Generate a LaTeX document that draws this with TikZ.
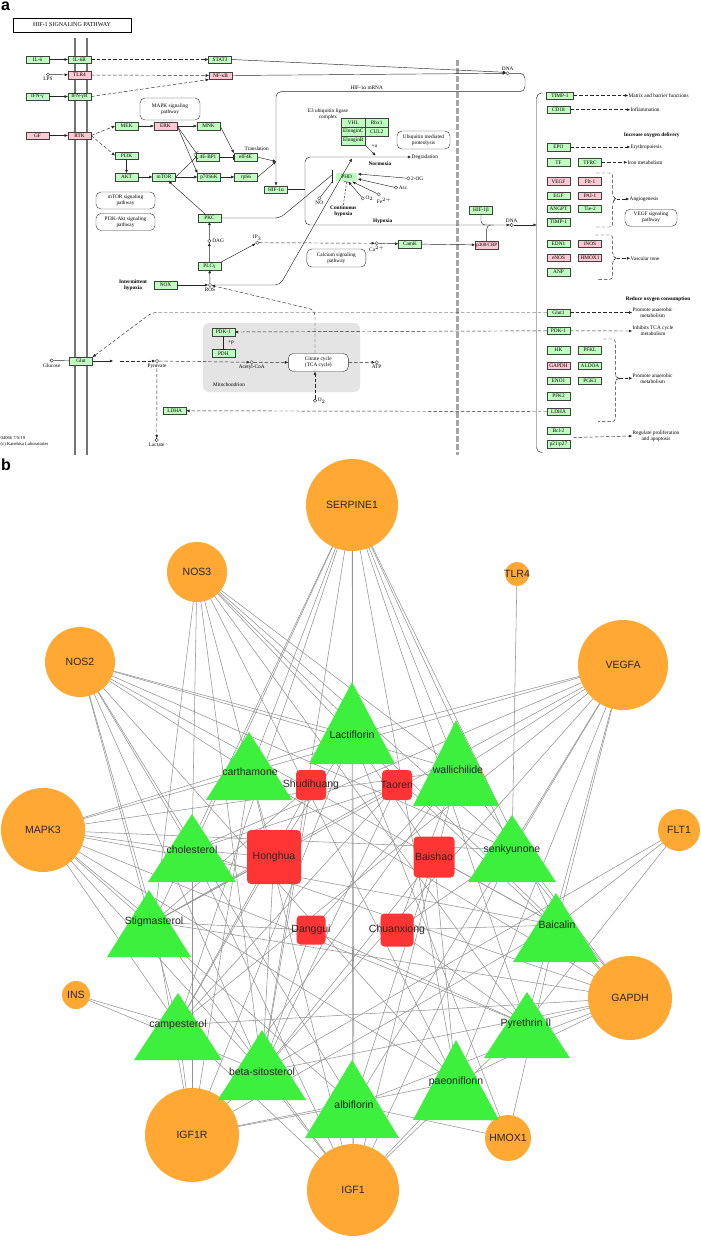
\documentclass[tikz,border=0pt]{standalone}
\usepackage{fontspec}
\setmainfont{Liberation Serif}
\newfontfamily\netfont{Liberation Sans}
\usetikzlibrary{arrows.meta}
\usetikzlibrary{positioning}
\usetikzlibrary{calc,backgrounds}
\definecolor{kgreen}{HTML}{BFFFBF}
\definecolor{kpink}{HTML}{FFC8D2}
\definecolor{mitogray}{HTML}{E4E4E4}
\definecolor{herbred}{HTML}{FF3535}
\definecolor{cpdgreen}{HTML}{3DF03D}
\definecolor{tgtorange}{HTML}{FFA834}
\newcommand{\kfont}{\fontsize{5.3pt}{6pt}\selectfont}
\newcommand{\nfont}{\netfont\fontsize{10.5pt}{12pt}\selectfont}
\tikzstyle{gene}=[draw=black!75, fill=kgreen, minimum width=23pt, minimum height=7.6pt, inner sep=0pt, line width=0.4pt, font=\kfont]
\tikzstyle{pgene}=[gene, fill=kpink]
\tikzstyle{cpd}=[circle, draw=black!80, fill=white, inner sep=0pt, minimum size=3.4pt, line width=0.4pt]
\tikzstyle{mapbox}=[draw=black!80, rounded corners=5pt, align=center, font=\kfont, inner sep=1pt, line width=0.4pt]
\tikzstyle{klabel}=[font=\kfont, align=center, inner sep=0.5pt]
\tikzstyle{kbold}=[klabel, font=\kfont\bfseries]
\tikzstyle{act}=[draw=black!85, line width=0.45pt, -{Triangle[length=3.2pt,width=2.6pt]}]
\tikzstyle{dact}=[act, dash pattern=on 3.5pt off 2pt]
\tikzstyle{inh}=[draw=black!85, line width=0.45pt, -{Bar[width=5pt]}]
\tikzstyle{plainline}=[draw=black!85, line width=0.45pt]
\tikzstyle{memline}=[draw=black!55, line width=1.6pt]
\tikzstyle{netedge}=[draw=black!42, line width=0.55pt]
\tikzstyle{tgt}=[circle, fill=tgtorange, inner sep=0pt]
\tikzstyle{herb}=[rectangle, rounded corners=4pt, fill=herbred, inner sep=0pt]
\tikzstyle{netlabel}=[inner sep=0pt, font=\nfont, text=black!85]

\begin{document}
\begin{tikzpicture}[x=1pt, y=-1pt]
    \useasboundingbox (0,0) rectangle (701,1240);
    % Panel a: HIF-1 signalling map
    \node[font=\netfont\bfseries\fontsize{16pt}{17pt}\selectfont, anchor=north west, inner sep=0pt] (panela) at (1,2) {a};
    \node[draw, line width=0.5pt, minimum width=118pt, minimum height=14pt, inner sep=0pt, font=\fontsize{6pt}{7pt}\selectfont] (title) at (72,25) {HIF-1 SIGNALING PATHWAY};

    % membranes and nucleus boundary
    \draw[memline] (75,38) -- (75,455);
    \draw[memline] (87,38) -- (87,455);
    \draw[draw=black!35, line width=2.6pt, dash pattern=on 6pt off 2pt] (457.5,60) -- (457.5,455);
    \fill[mitogray, rounded corners=6pt] (203,323) rectangle (360,392);

    % First the gene products
    \foreach \pos/\name/\label in {{(37.5,59.5)/IL6/IL-6}, {(79.5,59.5)/IL6R/IL-6R}, {(220,59.5)/STAT3/STAT3},
        {(37.5,96.5)/IFNG/IFN-γ}, {(79.5,96.5)/IFNGR/IFN-γR}, {(126.5,126)/MEK/MEK}, {(208.5,126)/MNK/MNK},
        {(126.5,155.5)/PI3K/PI3K}, {(126.5,177)/AKT/AKT}, {(164,177)/mTOR/mTOR}, {(208,157)/EBP/4E-BP1},
        {(209,177)/SK/p70S6K}, {(245.5,157)/eIF/eIF4E}, {(246,177)/rpS/rpS6}, {(276,189.5)/HIFa/HIF-1α},
        {(209.5,218)/PKC/PKC}, {(209.5,266)/PLCg/PLCγ}, {(165.5,285)/NOX/NOX}, {(410,244)/CamK/CamK},
        {(481,210)/HIFb/HIF-1β}, {(223.3,332)/PDKm/PDK-1}, {(223.3,353.3)/PDH/PDH}, {(81,361)/Glut/Glut},
        {(174.7,410.8)/LDHAm/LDHA}, {(558.5,109.7)/CDe/CD18}, {(558.5,147)/EPO/EPO}, {(558.5,162.3)/TF/TF},
        {(590,162.3)/TFRC/TFRC}, {(558.5,195.5)/EGF/EGF}, {(558.5,208.8)/ANGPT/ANGPT}, {(590,208.8)/Tie/Tie-2},
        {(558.5,222.2)/TIMPb/TIMP-1}, {(558.5,243.8)/EDN/EDN1}, {(558.5,272.2)/ANP/ANP}, {(558.5,312.5)/Glutr/Glut1},
        {(558.5,330.8)/PDKr/PDK-1}, {(558.5,350)/HK/HK}, {(590,350)/PFKL/PFKL}, {(590,365.8)/ALDOA/ALDOA},
        {(558.5,380.8)/ENO/ENO1}, {(590,380.8)/PGK/PGK1}, {(558.5,396.2)/PFKt/PFK2}, {(558.5,411.5)/LDHAr/LDHA},
        {(558.5,430.8)/Bcl/Bcl-2}}
        \node[gene] (\name) at \pos {\label};
    \foreach \pos/\name/\label in {{(79.5,75)/TLR/TLR4}, {(220.5,75.5)/NFKB/NF-κB}, {(37.5,135.5)/GF/GF},
        {(79.5,135.5)/RTK/RTK}, {(165.5,126)/ERK/ERK}, {(558.5,181.3)/VEGF/VEGF}, {(590,181.3)/Flt/Flt-1},
        {(590,195.5)/PAI/PAI-1}, {(590,243.8)/iNOS/iNOS}, {(558.5,257.8)/eNOS/eNOS}, {(590,257.8)/HMOX/HMOX1},
        {(558.5,365.8)/GAPDH/GAPDH}}
        \node[pgene] (\name) at \pos {\label};
    \node[gene, minimum width=27pt] (TIMPa) at (560,95.5) {TIMP-1};
    \node[gene] (pTw) at (558.5,444.2) {p21/p27};
    \node[pgene, font=\fontsize{5pt}{6pt}\selectfont] (p300) at (486.7,245) {p300/CBP};
    \foreach \pos/\name/\label in {{(353.3,122.8)/VHL/VHL}, {(376.7,122.8)/Rbx/Rbx1}, {(353.3,131.6)/ElC/ElonginC},
        {(376.7,131.6)/CUL/CUL2}, {(353.3,140.4)/ElB/ElonginB}}
        \node[gene, minimum width=23.4pt, minimum height=8.8pt] (\name) at \pos {\label};
    \node[gene, double, double distance=0.6pt, minimum width=22pt, minimum height=9pt] (PHD) at (346.7,177) {PHD};

    % compounds
    \node[cpd] (LPS) at (48,74.5) {};        \node[klabel, below=0.3pt of LPS] (LPSl) {LPS};
    \node[cpd] (DAG) at (209.3,241) {};      \node[klabel, right=0.5pt of DAG] (DAGl) {DAG};
    \node[cpd] (IP) at (257.3,242.7) {};     \node[klabel, above=0pt of IP] (IPl) {IP$_3$};
    \node[cpd] (Ca) at (376.7,243.3) {};     \node[klabel, below=0.3pt of Ca] (Cal) {Ca$^{2+}$};
    \node[cpd] (ROS) at (210,285) {};        \node[klabel, below=0.3pt of ROS] (ROSl) {ROS};
    \node[cpd] (NO) at (319.3,198.3) {};     \node[klabel, below=0.3pt of NO] (NOl) {NO};
    \node[cpd] (Otwo) at (362.7,198.3) {};   \node[klabel, right=0.3pt of Otwo] (Otwol) {O$_2$};
    \node[cpd] (Fe) at (378.7,194.3) {};     \node[klabel] (Fel) at (384,201) {Fe$^{2+}$};
    \node[cpd] (Asc) at (396,187.7) {};      \node[klabel, right=0.3pt of Asc] (Ascl) {Asc};
    \node[cpd] (OG) at (408.3,178.3) {};     \node[klabel, right=0.3pt of OG] (OGl) {2-OG};
    \node[cpd] (DNAa) at (507.7,73.3) {};    \node[klabel, above=0.3pt of DNAa] (DNAal) {DNA};
    \node[cpd] (DNAb) at (511.7,225) {};     \node[klabel, above=0.3pt of DNAb] (DNAbl) {DNA};
    \node[cpd] (Gluc) at (51.7,360.5) {};    \node[klabel, below=0.3pt of Gluc] (Glucl) {Glucose};
    \node[cpd] (Pyr) at (157,361) {};        \node[klabel, below=0.3pt of Pyr] (Pyrl) {Pyruvate};
    \node[cpd] (AcCoA) at (251.7,362.3) {};  \node[klabel, below=0.3pt of AcCoA] (AcCoAl) {Acetyl-CoA};
    \node[cpd] (ATP) at (376.7,362.3) {};    \node[klabel, below=0.3pt of ATP] (ATPl) {ATP};
    \node[cpd] (Othree) at (315,400.7) {};   \node[klabel, right=0.3pt of Othree] (Othreel) {O$_2$};
    \node[cpd] (Lact) at (156.7,440) {};     \node[klabel, below=0.3pt of Lact] (Lactl) {Lactate};

    % linked pathway maps
    \node[mapbox, minimum width=60pt, minimum height=22pt] (MAPKp) at (170,109) {MAPK signaling\\pathway};
    \node[mapbox, minimum width=59pt, minimum height=17pt] (mTORp) at (125.5,200.5) {mTOR signaling\\pathway};
    \node[mapbox, minimum width=59pt, minimum height=17pt] (PIAKp) at (125.5,222) {PI3K-Akt signaling\\pathway};
    \node[mapbox, minimum width=53pt, minimum height=18pt] (Ubqp) at (423.5,140) {Ubiquitin mediated\\proteolysis};
    \node[mapbox, minimum width=59pt, minimum height=18pt] (Calcp) at (336.3,258) {Calcium signaling\\pathway};
    \node[mapbox, minimum width=52pt, minimum height=17pt] (VEGFp) at (651,217.7) {VEGF signaling\\pathway};
    \node[mapbox, fill=white, minimum width=60pt, minimum height=18pt] (TCA) at (318.3,362.5) {Citrate cycle\\(TCA cycle)};

    % texts
    \node[klabel] (transl) at (256.7,148.3) {Translation};
    \node[klabel] (etre) at (328,114) {E3 ubiquitin ligase\\complex};
    \node[klabel] (plusu) at (374.5,146) {+u};
    \node[klabel, anchor=west] (degr) at (411,157) {Degradation};
    \node[kbold] (normo) at (380,163.5) {Normoxia};
    \node[klabel] (mrna) at (366.7,88) {HIF-1α mRNA};
    \node[kbold] (intermit) at (133,285) {Intermittent\\hypoxia};
    \node[kbold] (conthyp) at (343.3,211) {Continuous\\hypoxia};
    \node[kbold] (hypo) at (382.7,221) {Hypoxia};
    \node[klabel] (mito) at (229,385) {Mitochondrion};
    \node[klabel] (plusp) at (231,342.7) {+p};
    \node[klabel, anchor=west] (matrix) at (628,95.5) {Matrix and barrier functions};
    \node[klabel, anchor=west] (inflam) at (630,109.7) {Inflammation};
    \node[kbold] (incr) at (651.7,135) {Increase oxygen delivery};
    \node[klabel, anchor=west] (eryth) at (630,147) {Erythropoiesis};
    \node[klabel, anchor=west] (iron) at (627,162.3) {Iron metabolism};
    \node[klabel, anchor=west] (angio) at (629,199) {Angiogenesis};
    \node[klabel, anchor=west] (vasc) at (630,258.3) {Vascular tone};
    \node[kbold] (reduce) at (658,299.3) {Reduce oxygen consumption};
    \node[klabel, anchor=west] (promA) at (632,312.5) {Promote anaerobic\\metabolism};
    \node[klabel, anchor=west] (inhib) at (632,331) {Inhibits TCA cycle\\metabolism};
    \node[klabel, anchor=west] (promB) at (632,378.3) {Promote anaerobic\\metabolism};
    \node[klabel, anchor=west] (regul) at (632,436) {Regulate proliferation\\and apoptosis};
    \node[klabel, anchor=north west, align=left, font=\fontsize{4.6pt}{5.4pt}\selectfont] (credit) at (0,436) {04066 7/5/19\\(c) Kanehisa Laboratories};

    % free ends and bends
    \coordinate (tj) at (276,161.5);
    \coordinate (mrnaR) at (525,91.7);
    \coordinate (rosbend) at (280,285);
    \coordinate (normtip) at (352,158.5);
    \coordinate (pkcbend) at (280,218);
    \coordinate (phdbarT) at (332.7,170);
    \coordinate (phdbarB) at (332.7,182.5);
    \coordinate (hbr) at (305,189.5);
    \coordinate (ubtip) at (375.5,155.5);
    \coordinate (hbj) at (490,225);
    \coordinate (pcj) at (494,225);
    \coordinate (brk) at (536.5,225);
    \coordinate (brkTop) at (543,93);
    \coordinate (brkBot) at (543,452.5);
    \coordinate (anT) at (596,173);   \coordinate (anM) at (616.7,199);   \coordinate (anB) at (596,227);
    \coordinate (vaT) at (595,235);   \coordinate (vaM) at (616.7,258.3); \coordinate (vaB) at (598,279.3);
    \coordinate (glT) at (603,339);   \coordinate (glM) at (619,378.3);   \coordinate (glB) at (598,421.7);
    \coordinate (bclj) at (573,437.5);
    \coordinate (glbend) at (152,312.5);
    \coordinate (glutout) at (113,361);
    \coordinate (glutdash) at (120,361);
    \coordinate (tcabend) at (315,310);

    % Connect the map
    \draw[act] (IL6) -- (IL6R);
    \draw[dact] (IL6R) -- (STAT3);
    \draw[act] (LPS) -- (TLR);
    \draw[dact] (TLR) -- (NFKB);
    \draw[act] (IFNG) -- (IFNGR);
    \draw[dact] (IFNGR.east) -- (NFKB.south west);
    \draw[act] (GF) -- (RTK);
    \draw[dact] (RTK.east) -- (MEK.west);
    \draw[dact] (RTK.east) -- (PI3K.west);
    \draw[act] (MEK) -- (ERK);
    \draw[act] (ERK) -- (MNK);
    \draw[act] (PI3K) -- (AKT);
    \draw[act] (AKT) -- (mTOR);
    \draw[act] (mTOR) -- (SK);
    \draw[inh] (mTOR.east) -- (EBP.west);
    \draw[inh] (ERK.east) -- (EBP.north west);
    \draw[act] (ERK.east) -- (SK.north west);
    \draw[inh] (EBP) -- (eIF);
    \draw[act] (MNK.east) -- (eIF.north west);
    \draw[act] (SK) -- (rpS);
    \draw[act] (eIF.east) -- (tj);
    \draw[act] (rpS.east) -- (tj);
    \draw[act, rounded corners=5pt] (DNAa.east) -| (mrnaR) -| (HIFa.north);
    \draw[act] (STAT3.east) -- (DNAa.150);
    \draw[act] (NFKB.east) -- (DNAa.west);
    \draw[act] (PKC) -- (mTOR);
    \draw[act] (PLCg) -- (DAG);
    \draw[act] (DAG) -- (PKC);
    \draw[act] (PLCg.north east) -- (IP);
    \draw[dact] (IP) -- (Ca);
    \draw[act] (Ca) -- (CamK);
    \draw[act] (CamK) -- (p300);
    \draw[act] (ROS) -- (PLCg);
    \draw[act] (NOX) -- (ROS);
    \draw[act, rounded corners=5pt] (ROS.east) -- (rosbend) -- (normtip);
    \draw[plainline] (phdbarT) -- (phdbarB);
    \draw[plainline, rounded corners=5pt] (PKC.east) -- (pkcbend) -- ($(phdbarT)!0.35!(phdbarB)$);
    \draw[plainline] (NO) -- ($(phdbarT)!0.9!(phdbarB)$);
    \draw[plainline] (HIFa.east) -- (hbr);
    \draw[act, rounded corners=5pt] (hbr) |- (degr.west);
    \draw[act, rounded corners=5pt] (hbr) |- (DNAb.west);
    \draw[act] (ElB.south east) -- (ubtip);
    \draw[inh, dash pattern=on 2pt off 1.5pt] (conthyp.north) -- (PHD.south);
    \draw[act] (OG) -- (PHD.15);
    \draw[act] (Asc) -- (PHD.-10);
    \draw[act] (Fe) -- (PHD.-40);
    \draw[act] (Otwo) -- (PHD.-70);
    \draw[plainline, rounded corners=4pt] (HIFb.south) |- (hbj);
    \draw[plainline, rounded corners=4pt] (p300.north) |- (pcj);
    \draw[act] (DNAb.east) -- (brk);
    \draw[plainline, rounded corners=5pt] (brkTop) -| (brk) |- (brkBot);

    % outputs of the right column
    \draw[dact] (TIMPa) -- (matrix.west);
    \draw[dact] (CDe) -- (inflam.west);
    \draw[dact] (EPO) -- (eryth.west);
    \draw[dact] (TFRC) -- (iron.west);
    \draw[plainline, dash pattern=on 3.5pt off 2pt, rounded corners=3pt] (anT) -- (612.7,173) -- (612.7,197) -- (anM) -- (612.7,201) -- (612.7,227) -- (anB);
    \draw[dact] (anM) -- (angio.west);
    \draw[plainline, dash pattern=on 3.5pt off 2pt, rounded corners=3pt] (vaT) -- (612.7,235) -- (612.7,256.3) -- (vaM) -- (612.7,260.3) -- (612.7,279.3) -- (vaB);
    \draw[dact] (vaM) -- (vasc.west);
    \draw[plainline, dash pattern=on 3.5pt off 2pt, rounded corners=3pt] (glT) -- (615.3,339) -- (615.3,376.3) -- (glM) -- (615.3,380.3) -- (615.3,421.7) -- (glB);
    \draw[dact] (glM) -- (promB.west);
    \draw[dact] (Glutr) -- (promA.west);
    \draw[dact] (PDKr) -- (inhib.west);
    \draw[dact] (bclj) -- (regul.west);

    % metabolism
    \draw[dact, rounded corners=5pt] (Glutr.west) -- (glbend) -- (Glut.north east);
    \draw[dact] (PDKr.west) -- (PDKm.east);
    \draw[dact] (LDHAr.west) -- (LDHAm.east);
    \draw[plainline] (Gluc) -- (Glut);
    \draw[act] (Glut) -- (glutout);
    \draw[dact] (glutdash) -- (Pyr);
    \draw[dact] (Pyr) -- (AcCoA);
    \draw[dact] (AcCoA) -- (TCA);
    \draw[dact] (TCA) -- (ATP);
    \draw[dact] (Othree) -- (Othree |- TCA.south);
    \draw[dact] (Pyr) -- (Lact);
    \draw[inh] (PDKm) -- (PDH);
    \draw[dact, rounded corners=5pt] (TCA.north -| Othree) -- (tcabend) -- (ROS);

    % Panel b: herb - compound - target network
    \node[font=\netfont\bfseries\fontsize{16pt}{17pt}\selectfont, anchor=north west, inner sep=0pt] (panelb) at (1,459) {b};
    \foreach \pos/\name/\label/\d in {{(352,505)/tSerp/SERPINE1/92}, {(197,572)/tNos3/NOS3/60}, {(517,574)/tTlr/TLR4/24},
        {(80,662)/tNos2/NOS2/70}, {(623,665)/tVegfa/VEGFA/90}, {(43,830)/tMapk/MAPK3/84}, {(679,830)/tFlt/FLT1/42},
        {(76,995)/tIns/INS/28}, {(630,998)/tGapdh/GAPDH/84}, {(192,1135)/tIgfr/IGF1R/94}, {(508,1138)/tHmox/HMOX1/46},
        {(353,1190)/tIgf/IGF1/92}}
    {
        \node[tgt, minimum size=\d pt] (\name) at \pos {};
        \node[netlabel] (\name-l) at (\name) {\label};
    }
    \foreach \ax/\ay/\by/\hw/\lx/\ly/\name/\label in {{352/682/764/43/352/735/cLac/Lactiflorin},
        {249/732/800/43/250/772/cCar/carthamone}, {456/720/806/43/458/770/cWal/wallichilide},
        {192/814/882/44/192/850/cCho/cholesterol}, {512/815/882/44/512/850/cSen/senkyunone},
        {149/890/957/42/154/922/cSti/Stigmasterol}, {556/893/962/43/557/925/cBai/Baicalin},
        {178/993/1060/44/178/1025/cCam/campesterol}, {527/992/1058/43/526/1024/cPyr/Pyrethrin II},
        {262/1030/1100/44/262/1072/cBsi/beta-sitosterol}, {456/1040/1120/43/456/1082/cPae/paeoniflorin},
        {352/1060/1138/47/354/1105/cAlb/albiflorin}}
    {
        \fill[cpdgreen] (\ax,\ay) -- ({\ax-\hw},\by) -- ({\ax+\hw},\by) -- cycle;
        \node[netlabel] (\name) at (\lx,\ly) {\label};
    }
    \foreach \pos/\name/\label/\d in {{(311,785)/hShu/Shudihuang/30}, {(397,785)/hTao/Taoren/30},
        {(274,857)/hHon/Honghua/54}, {(434,857)/hBai/Baishao/41}, {(311,930)/hDan/Danggui/29},
        {(397,930)/hChu/Chuanxiong/33}}
    {
        \node[herb, minimum size=\d pt] (\name) at \pos {};
        \node[netlabel] (\name-l) at (\name) {\label};
    }

    % Connect compounds with targets and herbs
    \begin{pgfonlayer}{background}
        \fill[white] (0,0) rectangle (701,1240);
        \foreach \src/\dests in {cLac/{tSerp,tNos3,tNos2,tVegfa,tMapk,tGapdh,tIgfr,tIgf,tHmox},
            cCar/{tSerp,tNos3,tNos2,tVegfa,tMapk,tGapdh,tIgfr,tIgf},
            cWal/{tSerp,tNos3,tNos2,tVegfa,tMapk,tGapdh,tIgfr,tIgf},
            cCho/{tSerp,tNos3,tNos2,tVegfa,tMapk,tGapdh,tIgfr,tIgf},
            cSen/{tSerp,tNos3,tNos2,tVegfa,tMapk,tTlr,tGapdh,tIgf},
            cSti/{tSerp,tNos3,tNos2,tVegfa,tMapk,tIgfr,tIgf,tGapdh},
            cBai/{tSerp,tNos3,tNos2,tVegfa,tMapk,tFlt,tGapdh,tIgfr,tHmox},
            cCam/{tSerp,tNos2,tVegfa,tMapk,tIns,tIgfr,tIgf,tGapdh},
            cPyr/{tSerp,tNos3,tVegfa,tMapk,tFlt,tGapdh,tIgf},
            cBsi/{tSerp,tNos3,tNos2,tVegfa,tMapk,tIns,tFlt,tGapdh,tIgfr,tIgf},
            cPae/{tSerp,tNos3,tNos2,tVegfa,tMapk,tGapdh,tIgfr,tIgf,tHmox},
            cAlb/{tSerp,tNos2,tVegfa,tMapk,tGapdh,tIgfr,tIgf,tHmox},
            hShu/{cSti,cBsi,cCam}, hTao/{cCam,cBsi,cCho,cSti},
            hHon/{cCar,cCho,cSti,cBsi,cCam,cLac}, hBai/{cPae,cAlb,cLac,cBsi,cBai},
            hDan/{cSti,cBsi,cWal,cPyr}, hChu/{cSen,cWal,cPyr,cBai}}
            \foreach \dest in \dests
                \draw[netedge] (\src.center) -- (\dest.center);
    \end{pgfonlayer}
\end{tikzpicture}
\end{document}
